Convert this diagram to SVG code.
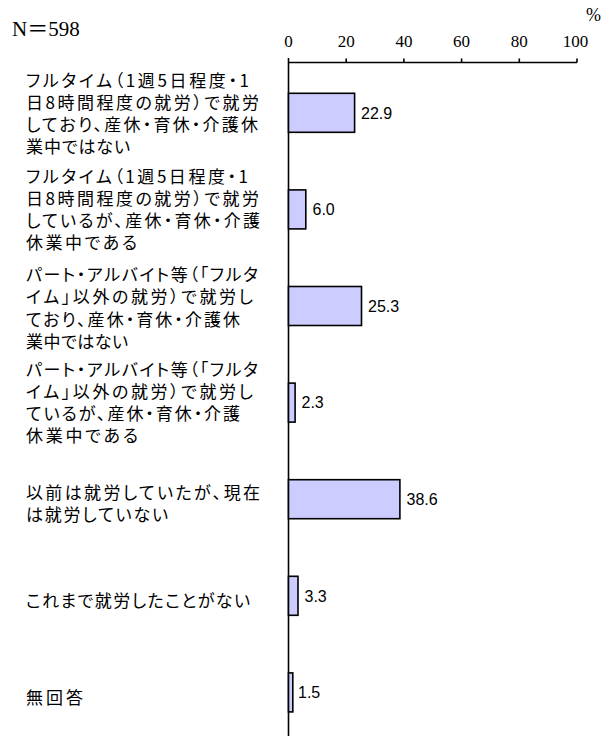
<svg xmlns="http://www.w3.org/2000/svg" width="611" height="736" viewBox="0 0 611 736">
<style>
.bg{fill:#ffffff}
.ax{stroke:#000;stroke-width:1.6;fill:none}
.bar{fill:#CCCCFF;stroke:#000;stroke-width:1.6}
.tick{font-family:"Liberation Serif","Noto Sans CJK JP",serif;font-size:17px;fill:#000;text-anchor:middle}
.hdr{font-family:"Liberation Serif","Noto Sans CJK JP",serif;font-size:21px;fill:#000}
.pct{font-family:"Liberation Serif",serif;font-size:18px;fill:#000}
.val{font-family:"Liberation Sans",Arial,sans-serif;font-size:16px;fill:#000}
.lab{font-family:"Noto Sans CJK JP",sans-serif;font-size:17px;fill:#000;font-feature-settings:"palt"}
</style>
<rect class="bg" x="0" y="0" width="611" height="736"/>
<text class="hdr" x="12" y="36">N＝598</text>
<text class="pct" x="586" y="21">%</text>
<g id="axis">
<line class="ax" x1="288.5" y1="58" x2="288.5" y2="736"/>
<line class="ax" x1="288.5" y1="62.5" x2="577" y2="62.5"/>
<line class="ax" x1="346.2" y1="58.5" x2="346.2" y2="62.5"/>
<line class="ax" x1="403.9" y1="58.5" x2="403.9" y2="62.5"/>
<line class="ax" x1="461.6" y1="58.5" x2="461.6" y2="62.5"/>
<line class="ax" x1="519.3" y1="58.5" x2="519.3" y2="62.5"/>
<line class="ax" x1="577" y1="58.5" x2="577" y2="62.5"/>
<text class="tick" x="288.5" y="47">0</text>
<text class="tick" x="346.2" y="47">20</text>
<text class="tick" x="403.9" y="47">40</text>
<text class="tick" x="461.6" y="47">60</text>
<text class="tick" x="519.3" y="47">80</text>
<text class="tick" x="575.5" y="47">100</text>
</g>
<g id="item1">
<text class="lab"><tspan x="26" y="86.5" textLength="223" lengthAdjust="spacing">フルタイム（1週5日程度・1</tspan><tspan x="26" y="108.8" textLength="233" lengthAdjust="spacing">日8時間程度の就労）で就労</tspan><tspan x="26" y="131.1" textLength="232" lengthAdjust="spacing">しており、産休・育休・介護休</tspan><tspan x="26" y="153.4" textLength="104" lengthAdjust="spacing">業中ではない</tspan></text>
<rect class="bar" x="288.5" y="93.3" width="66.1" height="39"/>
<text class="val" x="361" y="118.5">22.9</text>
</g>
<g id="item2">
<text class="lab"><tspan x="26" y="182.5" textLength="222" lengthAdjust="spacing">フルタイム（1週5日程度・1</tspan><tspan x="26" y="204.8" textLength="233" lengthAdjust="spacing">日8時間程度の就労）で就労</tspan><tspan x="26" y="227.1" textLength="234" lengthAdjust="spacing">しているが、産休・育休・介護</tspan><tspan x="26" y="249.4" textLength="111" lengthAdjust="spacing">休業中である</tspan></text>
<rect class="bar" x="288.5" y="189.9" width="17.3" height="39"/>
<text class="val" x="312.5" y="215.1">6.0</text>
</g>
<g id="item3">
<text class="lab"><tspan x="26" y="281" textLength="232" lengthAdjust="spacing">パート・アルバイト等（「フルタ</tspan><tspan x="26" y="303.3" textLength="227" lengthAdjust="spacing">イム」以外の就労）で就労し</tspan><tspan x="26" y="325.6" textLength="214" lengthAdjust="spacing">ており、産休・育休・介護休</tspan><tspan x="26" y="347.9" textLength="102" lengthAdjust="spacing">業中ではない</tspan></text>
<rect class="bar" x="288.5" y="286.5" width="73" height="39"/>
<text class="val" x="368" y="311.7">25.3</text>
</g>
<g id="item4">
<text class="lab"><tspan x="26" y="375.5" textLength="232" lengthAdjust="spacing">パート・アルバイト等（「フルタ</tspan><tspan x="26" y="397.8" textLength="227" lengthAdjust="spacing">イム」以外の就労）で就労し</tspan><tspan x="26" y="420.1" textLength="214" lengthAdjust="spacing">ているが、産休・育休・介護</tspan><tspan x="26" y="442.4" textLength="112" lengthAdjust="spacing">休業中である</tspan></text>
<rect class="bar" x="288.5" y="383.1" width="6.6" height="39"/>
<text class="val" x="301.5" y="408.3">2.3</text>
</g>
<g id="item5">
<text class="lab"><tspan x="26" y="499" textLength="234" lengthAdjust="spacing">以前は就労していたが、現在</tspan><tspan x="26" y="521.3" textLength="142" lengthAdjust="spacing">は就労していない</tspan></text>
<rect class="bar" x="288.5" y="479.7" width="111.4" height="39"/>
<text class="val" x="406.5" y="504.9">38.6</text>
</g>
<g id="item6">
<text class="lab" x="26" y="606.5" textLength="224" lengthAdjust="spacing">これまで就労したことがない</text>
<rect class="bar" x="288.5" y="576.3" width="9.5" height="39"/>
<text class="val" x="304.5" y="601.5">3.3</text>
</g>
<g id="item7">
<text class="lab" x="26" y="703.5" textLength="57" lengthAdjust="spacing">無回答</text>
<rect class="bar" x="288.5" y="672.9" width="4.3" height="39"/>
<text class="val" x="298" y="698.1">1.5</text>
</g>
<g id="connectors"></g>
</svg>
